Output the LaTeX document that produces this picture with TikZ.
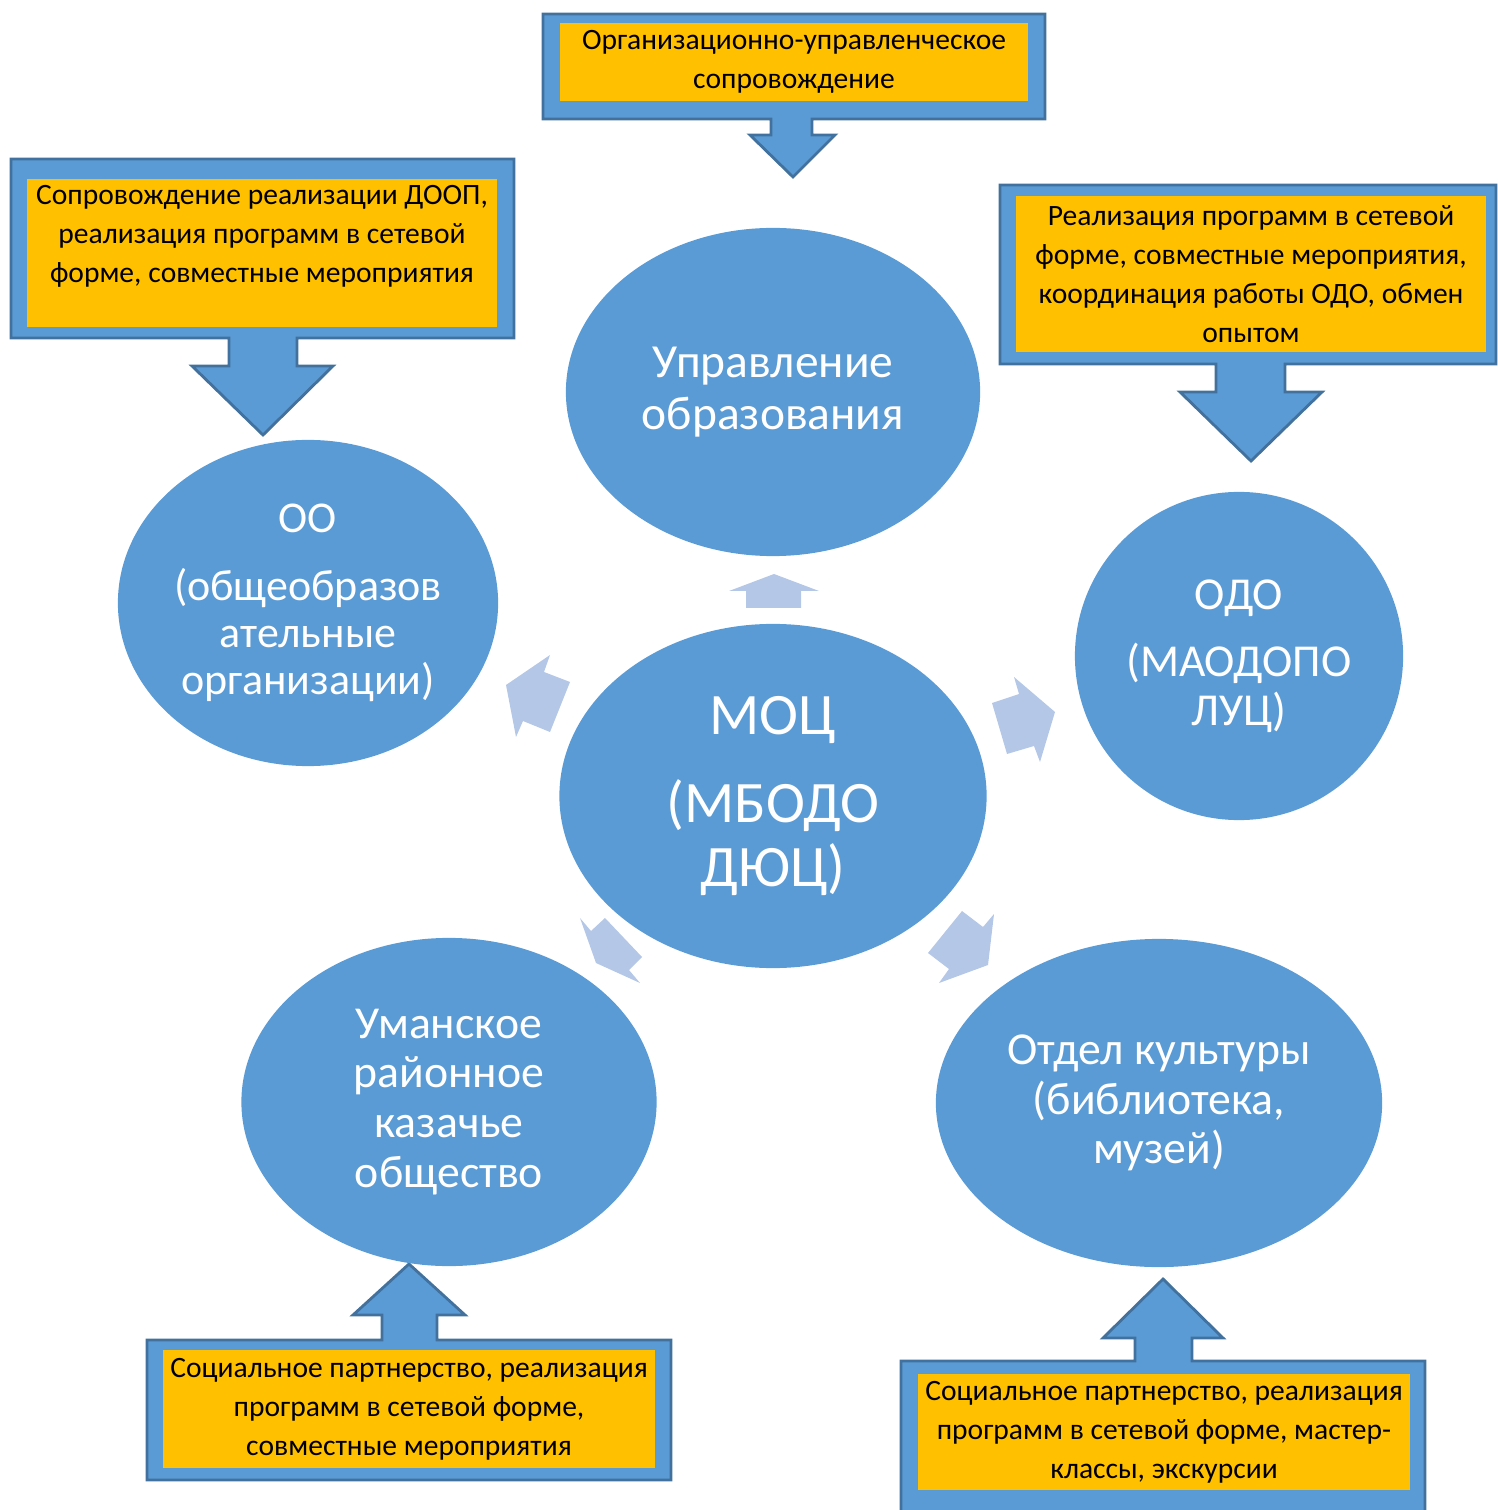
\documentclass[tikz,border=0pt]{standalone}
\usepackage{fontspec}
\setmainfont{Carlito}
\usetikzlibrary{shapes.geometric}

\definecolor{bubbleblue}{HTML}{5B9BD5}
\definecolor{frameblue}{HTML}{41719C}
\definecolor{noteyellow}{HTML}{FFC000}
\definecolor{paleblue}{HTML}{B4C7E7}

\tikzset{
  bubble/.style={ellipse, fill=bubbleblue, text=white, align=center, inner sep=0pt},
  callout/.style={fill=bubbleblue, draw=frameblue, line width=0.8pt},
  note/.style={rectangle, fill=noteyellow, align=center, inner sep=0pt,
    font=\fontsize{8.4}{11.1}\selectfont},
  flow/.style={fill=paleblue},
}

\begin{document}
\begin{tikzpicture}[x=0.01cm, y=-0.01cm]
    \useasboundingbox (0,0) rectangle (1498,1510);
    % callouts
    \draw[callout] (543,14) -- (1045,14) -- (1045,119) -- (812,119) -- (812,135) -- (835,135)
      -- (793,177) -- (750,135) -- (771,135) -- (771,119) -- (543,119) -- cycle;
    \draw[callout] (11,159) -- (514,159) -- (514,338) -- (297,338) -- (297,366) -- (333,366)
      -- (263,435) -- (192,366) -- (229,366) -- (229,338) -- (11,338) -- cycle;
    \draw[callout] (1000,185) -- (1496,185) -- (1496,364) -- (1285,364) -- (1285,392) -- (1322,392)
      -- (1251,461) -- (1180,392) -- (1216,392) -- (1216,364) -- (1000,364) -- cycle;
    \draw[callout] (147,1340) -- (382,1340) -- (382,1315) -- (353,1315) -- (409,1264) -- (465,1315)
      -- (437,1315) -- (437,1340) -- (671,1340) -- (671,1480) -- (147,1480) -- cycle;
    \draw[callout] (901,1361) -- (1135,1361) -- (1135,1338) -- (1103,1338) -- (1163,1279) -- (1223,1338)
      -- (1192,1338) -- (1192,1361) -- (1425,1361) -- (1425,1515) -- (901,1515) -- cycle;
    \node[note, minimum width=4.68cm, minimum height=0.77cm] (orgsup) at (794,62)
      {Организационно-управленческое\\сопровождение};
    \node[note, minimum width=4.69cm, minimum height=1.47cm] (doop) at (262,253)
      {Сопровождение реализации ДООП,\\реализация программ в сетевой\\форме, совместные мероприятия\\ \mbox{}};
    \node[note, minimum width=4.69cm, minimum height=1.55cm] (netform) at (1251,274)
      {Реализация программ в сетевой\\форме, совместные мероприятия,\\координация работы ОДО, обмен\\опытом};
    \node[note, minimum width=4.91cm, minimum height=1.18cm] (cossack) at (409,1409)
      {Социальное партнерство, реализация\\программ в сетевой форме,\\совместные мероприятия};
    \node[note, minimum width=4.92cm, minimum height=1.15cm] (culture) at (1164,1432)
      {Социальное партнерство, реализация\\программ в сетевой форме, мастер-\\классы, экскурсии};
    % bubbles
    \node[bubble, minimum width=4.14cm, minimum height=3.28cm, font=\fontsize{13.5}{15}\selectfont]
      (upr) at (773,392) {Управление\\образования};
    \node[bubble, minimum width=3.80cm, minimum height=3.26cm, font=\fontsize{12.5}{13.4}\selectfont]
      (oo) at (308,603) {ОО\\[6pt](общеобразов\\ательные\\организации)};
    \node[bubble, minimum width=3.28cm, minimum height=3.28cm, font=\fontsize{13}{14}\selectfont]
      (odo) at (1239,656) {ОДО\\[5pt](МАОДОПО\\ЛУЦ)};
    \node[bubble, minimum width=4.27cm, minimum height=3.44cm, font=\fontsize{16.7}{18}\selectfont]
      (moc) at (773,796) {МОЦ\\[7pt](МБОДО\\ДЮЦ)};
    \node[bubble, minimum width=4.15cm, minimum height=3.28cm, font=\fontsize{13}{14.2}\selectfont]
      (kazak) at (449,1102) {Уманское\\районное\\казачье\\общество};
    \node[bubble, minimum width=4.46cm, minimum height=3.28cm, font=\fontsize{13}{14}\selectfont]
      (otdel) at (1159,1103) {Отдел культуры\\(библиотека,\\музей)};
    % arrows out of the centre
    \fill[flow] (774,574) -- (819,591) -- (801,591) -- (801,608) -- (746,608) -- (746,591) -- (729,591) -- cycle;
    \fill[flow] (506,685) -- (550,655) -- (544,672) -- (570,682) -- (550,732) -- (523,721) -- (516,737) -- cycle;
    \fill[flow] (1014,677) -- (1055,712) -- (1040,762) -- (1034,746) -- (1007,754) -- (992,703) -- (1019,694) -- cycle;
    \fill[flow] (580,918) -- (591,931) -- (605,918) -- (642,957) -- (629,970) -- (640,983) -- (596,963) -- cycle;
    \fill[flow] (962,911) -- (983,927) -- (994,914) -- (988,965) -- (939,983) -- (949,969) -- (928,953) -- cycle;
\end{tikzpicture}
\end{document}
